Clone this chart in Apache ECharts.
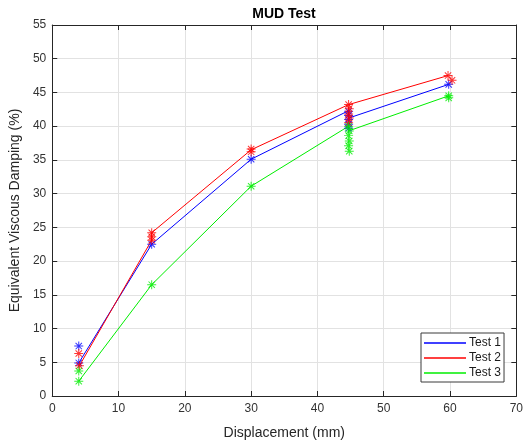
<!DOCTYPE html>
<html>
<head>
<meta charset="utf-8">
<script src="https://cdn.jsdelivr.net/npm/echarts@6/dist/echarts.min.js"></script>
<style>
  html, body { margin: 0; padding: 0; background: #fff; }
  #chart { width: 526px; height: 447px; }
</style>
</head>
<body>
<div id="chart"></div>
<script>
// Axis ranges and tick steps
const xTicks = [0, 10, 20, 30, 40, 50, 60, 70];
const yTicks = [0, 5, 10, 15, 20, 25, 30, 35, 40, 45, 50, 55];

const seriesNames = ['Test 1', 'Test 2', 'Test 3'];
const seriesColors = ['#0000ff', '#ff0000', '#00ee00'];

// Connecting lines for each test
const line1X = [4, 15, 30, 44.7, 44.7, 59.8];
const line1Y = [4.9, 22.5, 35.1, 42.3, 41.2, 46.2];
const line2X = [4.1, 15, 15, 30, 44.7, 59.7];
const line2Y = [4.5, 23.1, 24.2, 36.5, 43.2, 47.5];
const line3X = [4, 15, 30, 44.7, 44.7, 59.8];
const line3Y = [2.2, 16.5, 31.1, 40.0, 39.3, 44.5];

// Individual cycle measurements (asterisk markers)
const pts1X = [4, 4, 15, 30, 44.7, 44.7, 44.7, 44.7, 44.7, 59.8];
const pts1Y = [7.4, 4.9, 22.5, 35.1, 42.2, 41.6, 41.0, 40.3, 39.7, 46.2];
const pts2X = [4, 4.1, 15, 15, 15, 30, 30, 44.7, 44.8, 44.7, 44.8, 44.7, 59.7, 60.3];
const pts2Y = [6.3, 4.5, 24.2, 23.6, 23.1, 36.6, 36.2, 43.2, 42.6, 41.8, 41.2, 40.5, 47.5, 46.8];
const pts3X = [4, 4, 15, 30, 44.7, 44.8, 44.7, 44.8, 44.7, 44.8, 59.8, 59.8];
const pts3Y = [3.7, 2.2, 16.5, 31.1, 40.0, 39.3, 38.6, 37.8, 37.1, 36.3, 44.5, 44.2];

const zip = (xs, ys) => xs.map((x, i) => [x, ys[i]]);

// Eight-armed asterisk like a plotting '*' marker
const ASTERISK = 'path://M8.9,0 L11.1,0 L11.1,20 L8.9,20 Z ' +
  'M0,8.9 L20,8.9 L20,11.1 L0,11.1 Z ' +
  'M3.72,2.15 L17.85,16.28 L16.28,17.85 L2.15,3.72 Z ' +
  'M16.28,2.15 L17.85,3.72 L3.72,17.85 L2.15,16.28 Z';

const FONT = 'Arial, "Liberation Sans", Helvetica, sans-serif';
const AXIS_COLOR = '#262626';
const GRID_COLOR = '#e2e2e2';

const lines = [zip(line1X, line1Y), zip(line2X, line2Y), zip(line3X, line3Y)];
const points = [zip(pts1X, pts1Y), zip(pts2X, pts2Y), zip(pts3X, pts3Y)];

const series = [];
lines.forEach((data, i) => {
  series.push({
    name: seriesNames[i],
    type: 'line',
    data: data,
    symbol: 'none',
    color: seriesColors[i],
    lineStyle: { width: 1, color: seriesColors[i] },
    z: 2,
    animation: false
  });
});
points.forEach((data, i) => {
  series.push({
    name: seriesNames[i] + ' cycles',
    type: 'scatter',
    data: data,
    symbol: ASTERISK,
    symbolSize: 9,
    itemStyle: { color: seriesColors[i] },
    z: 3,
    animation: false
  });
});

function valueAxis(opts) {
  return Object.assign({
    type: 'value',
    axisLine: { show: true, onZero: false, lineStyle: { color: AXIS_COLOR, width: 1 } },
    axisTick: { show: true, inside: true, length: 5, lineStyle: { color: AXIS_COLOR } },
    splitLine: { show: false },
    axisLabel: { show: false }
  }, opts);
}

const chart = echarts.init(document.getElementById('chart'), null, { renderer: 'canvas' });
chart.setOption({
  animation: false,
  backgroundColor: '#ffffff',
  textStyle: { fontFamily: FONT },
  title: {
    text: 'MUD Test',
    left: 284,
    top: 7,
    padding: 0,
    textAlign: 'center',
    textStyle: { fontFamily: FONT, fontSize: 14, fontWeight: 'bold', color: '#000' }
  },
  grid: { left: 51, right: 9, top: 25, bottom: 51 },
  legend: {
    data: seriesNames,
    orient: 'vertical',
    left: 421,
    top: 333,
    padding: [4, 3, 3, 3],
    icon: 'rect',
    itemWidth: 42,
    itemHeight: 1.5,
    itemGap: 3,
    backgroundColor: '#fff',
    borderColor: '#3a3a3a',
    borderWidth: 1,
    borderRadius: 0,
    textStyle: { fontFamily: FONT, fontSize: 12, lineHeight: 12, color: '#1a1a1a', padding: [0, 0, 0, -2] }
  },
  xAxis: [
    valueAxis({
      position: 'bottom',
      min: xTicks[0],
      max: xTicks[xTicks.length - 1],
      interval: xTicks[1] - xTicks[0],
      name: 'Displacement (mm)',
      nameLocation: 'middle',
      nameGap: 30,
      nameTextStyle: { fontFamily: FONT, fontSize: 14, color: '#262626' },
      splitLine: { show: true, lineStyle: { color: GRID_COLOR, width: 1 } },
      axisLabel: { show: true, margin: 7, fontFamily: FONT, fontSize: 12, color: '#333' }
    }),
    valueAxis({
      position: 'top',
      min: xTicks[0],
      max: xTicks[xTicks.length - 1],
      interval: xTicks[1] - xTicks[0]
    })
  ],
  yAxis: [
    valueAxis({
      position: 'left',
      min: yTicks[0],
      max: yTicks[yTicks.length - 1],
      interval: yTicks[1] - yTicks[0],
      name: 'Equivalent Viscous Damping (%)',
      nameLocation: 'middle',
      nameGap: 25,
      nameTextStyle: { fontFamily: FONT, fontSize: 14, color: '#262626' },
      splitLine: { show: true, lineStyle: { color: GRID_COLOR, width: 1 } },
      axisLabel: { show: true, margin: 6, fontFamily: FONT, fontSize: 12, color: '#333' }
    }),
    valueAxis({
      position: 'right',
      min: yTicks[0],
      max: yTicks[yTicks.length - 1],
      interval: yTicks[1] - yTicks[0]
    })
  ],
  series: series
});
</script>
</body>
</html>
